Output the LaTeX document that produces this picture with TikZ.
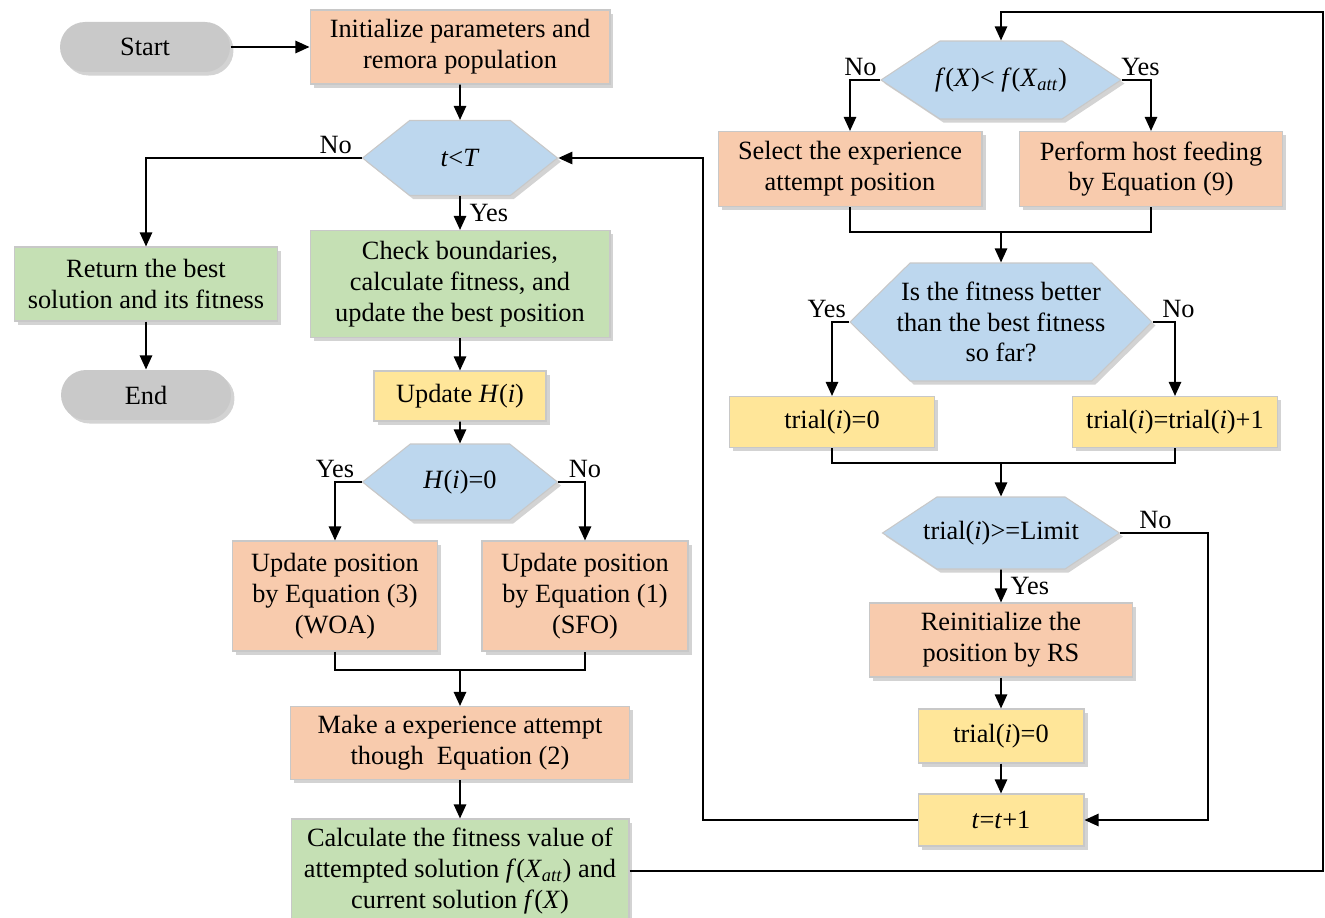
\documentclass[tikz,border=0pt]{standalone}
\usepackage{fontspec}
\setmainfont{Liberation Serif}
\usetikzlibrary{arrows.meta,positioning,shapes.symbols,shadows,calc}
\definecolor{remSalmon}{HTML}{F8CBAD}
\definecolor{remGreen}{HTML}{C5E0B4}
\definecolor{remYellow}{HTML}{FFE699}
\definecolor{remBlue}{HTML}{BDD7EE}
\definecolor{remGray}{HTML}{C9C9C9}
\definecolor{remEdge}{HTML}{C8C8C8}
\tikzset{
    >={Triangle[length=8pt,width=7pt]},
    every picture/.style={font=\fontsize{15}{17.5}\selectfont},
    base/.style={draw=remEdge, line width=0.6pt, align=center, inner sep=2pt, drop shadow={shadow xshift=2pt, shadow yshift=-2pt, opacity=0.35}},
    procbox/.style={base, fill=remSalmon},
    calcbox/.style={base, fill=remGreen},
    updbox/.style={base, fill=remYellow},
    termbox/.style={base, draw=none, fill=remGray, rounded corners=0.5cm, minimum width=3.4cm, minimum height=1cm},
    decide/.style={base, fill=remBlue, shape=signal, signal to=west and east, inner xsep=-8pt},
    line/.style={line width=1.05pt, draw=black},
    flow/.style={line, ->},
    lbl/.style={inner sep=2pt}
}
\begin{document}
\begin{tikzpicture}[x=0.02cm, y=-0.02cm]
\useasboundingbox (0,0) rectangle (1325,918);
% left column
\node[termbox] (start) at (145,47) {Start};
\node[procbox, minimum width=6cm, minimum height=1.48cm] (init) at (460,47) {Initialize parameters and\\remora population};
\node[decide, minimum width=3.9cm, minimum height=1.5cm, signal pointer angle=77] (tT) at (460,158) {\textit{t}<\textit{T}};
\node[calcbox, minimum width=6cm, minimum height=2.14cm] (check) at (460,284) {Check boundaries,\\calculate fitness, and\\update the best position};
\node[calcbox, minimum width=5.26cm, minimum height=1.48cm] (ret) at (146,284) {Return the best\\solution and its fitness};
\node[termbox] (end) at (146,395) {End};
\node[updbox, minimum width=3.44cm, minimum height=1cm] (updH) at (460,396) {Update \textit{H}(\textit{i})};
\node[decide, minimum width=3.9cm, minimum height=1.52cm, signal pointer angle=77] (Hi0) at (460,482) {\textit{H}(\textit{i})=0};
\node[procbox, minimum width=4.1cm, minimum height=2.2cm] (pos3) at (335,596) {Update position\\by Equation (3)\\(WOA)};
\node[procbox, minimum width=4.12cm, minimum height=2.2cm] (pos1) at (585,596) {Update position\\by Equation (1)\\(SFO)};
\node[procbox, minimum width=6.78cm, minimum height=1.46cm] (exp) at (460,743) {Make a experience attempt\\though\ \ Equation (2)};
\node[calcbox, minimum width=6.76cm, minimum height=2.08cm] (calc) at (460,871) {Calculate the fitness value of\\attempted solution \textit{f}(\textit{X}\textsubscript{\textit{att}}) and\\current solution \textit{f}(\textit{X})};
% right column
\node[decide, minimum width=4.8cm, minimum height=1.56cm, signal pointer angle=67] (fX) at (1001,80) {\textit{f}(\textit{X})< \textit{f}(\textit{X}\textsubscript{\textit{att}})};
\node[procbox, minimum width=5.28cm, minimum height=1.5cm] (selexp) at (850,169) {Select the experience\\attempt position};
\node[procbox, minimum width=5.26cm, minimum height=1.5cm] (host) at (1151,169) {Perform host feeding\\by Equation (9)};
\node[decide, minimum width=6.04cm, minimum height=2.36cm, signal pointer angle=89] (fit) at (1001,322) {Is the fitness better\\than the best fitness\\so far?};
\node[updbox, minimum width=4.1cm, minimum height=1.02cm] (trA) at (832,422) {trial(\textit{i})=0};
\node[updbox, minimum width=4.1cm, minimum height=1.02cm] (trB) at (1175,422) {trial(\textit{i})=trial(\textit{i})+1};
\node[decide, minimum width=4.74cm, minimum height=1.44cm, signal pointer angle=67] (lim) at (1001,533) {trial(\textit{i})>=Limit};
\node[procbox, minimum width=5.26cm, minimum height=1.48cm] (reinit) at (1001,640) {Reinitialize the\\position by RS};
\node[updbox, minimum width=3.32cm, minimum height=1.08cm] (trC) at (1001,736) {trial(\textit{i})=0};
\node[updbox, minimum width=3.32cm, minimum height=1.04cm] (tinc) at (1001,820) {\textit{t}=\textit{t}+1};
% bends and joins
\coordinate (joinA) at (460,670);
\coordinate (joinB) at (1001,232);
\coordinate (joinC) at (1001,463);
\coordinate (topR) at (1323,12);
\coordinate (noBend) at (1208,533);
\coordinate (backL) at (703,820);
% connectors
\draw[flow] (start) -- (init);
\draw[flow] (init) -- (tT);
\draw[flow] (tT.west) -| node[lbl, pos=0.06, above] {No} (ret.north);
\draw[flow] (tT) -- node[lbl, right, xshift=3pt] {Yes} (check);
\draw[flow] (ret) -- (end);
\draw[flow] (check) -- (updH);
\draw[flow] (updH) -- (Hi0);
\draw[flow] (Hi0.west) -| node[lbl, pos=0.5, above] {Yes} (pos3.north);
\draw[flow] (Hi0.east) -| node[lbl, pos=0.5, above] {No} (pos1.north);
\draw[line] (pos3.south) |- (joinA) -| (pos1.south);
\draw[flow] (joinA) -- (exp);
\draw[flow] (exp) -- (calc);
\draw[flow] (calc.east) -| (topR) -| (fX.north);
\draw[flow] (fX.west) -| node[lbl, pos=0.5, above, xshift=6pt] {No} (selexp.north);
\draw[flow] (fX.east) -| node[lbl, pos=0.5, above, xshift=-6pt] {Yes} (host.north);
\draw[line] (selexp.south) |- (joinB) -| (host.south);
\draw[flow] (joinB) -- (fit);
\draw[flow] (fit.west) -| node[lbl, pos=0.5, above, xshift=-3pt] {Yes} (trA.north);
\draw[flow] (fit.east) -| node[lbl, pos=0.5, above, xshift=2pt] {No} (trB.north);
\draw[line] (trA.south) |- (joinC) -| (trB.south);
\draw[flow] (joinC) -- (lim);
\draw[flow] (lim) -- node[lbl, right, xshift=3pt] {Yes} (reinit);
\draw[flow] (lim.east) -- node[lbl, pos=0.4, above] {No} (noBend) |- (tinc.east);
\draw[flow] (reinit) -- (trC);
\draw[flow] (trC) -- (tinc);
\draw[flow] (tinc.west) -- (backL) |- (tT.east);
\end{tikzpicture}
\end{document}
